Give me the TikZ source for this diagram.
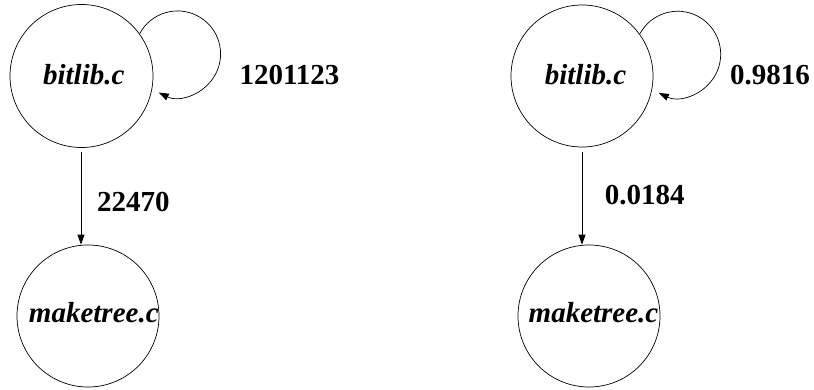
\documentclass[tikz,border=0pt]{standalone}
\usepackage{fontspec}
\setmainfont{Liberation Serif}
\usetikzlibrary{arrows.meta}
\begin{document}
\begin{tikzpicture}[x=1pt,y=1pt,
  statenode/.style={circle,draw,line width=0.7pt,inner sep=0pt,minimum size=142pt},
  filelabel/.style={anchor=base,inner sep=0pt,font=\fontsize{29}{34}\selectfont\bfseries\itshape},
  weightlabel/.style={anchor=base,inner sep=0pt,font=\fontsize{29}{34}\selectfont\bfseries},
  conn/.style={line width=0.7pt,-{Triangle[length=10pt,width=7pt]}}]
\useasboundingbox (0,0) rectangle (814,389);
% left graph
\node[statenode,minimum size=143pt] (A) at (81.5,313) {};
\node[statenode] (B) at (88,73) {};
\node[filelabel] (At) at (83.8,304) {bitlib.c};
\node[filelabel] (Bt) at (93.8,66.3) {maketree.c};
\coordinate (Aout) at (81,237);
\draw[conn] (Aout) -- (Aout |- B.north);
\draw[conn] (A.36) arc[start angle=152,end angle=-116,radius=43];
\node[weightlabel] (w1) at (289.5,304) {1201123};
\node[weightlabel] (w2) at (133.3,177.3) {22470};
% right graph
\node[statenode] (C) at (582,313) {};
\node[statenode] (D) at (589,73) {};
\node[filelabel] (Ct) at (585.5,304) {bitlib.c};
\node[filelabel] (Dt) at (593.5,66.3) {maketree.c};
\coordinate (Cout) at (582,237);
\draw[conn] (Cout) -- (Cout |- D.north);
\draw[conn] (C.36) arc[start angle=152,end angle=-116,radius=43];
\node[weightlabel] (w3) at (770,304) {0.9816};
\node[weightlabel] (w4) at (644.7,184.7) {0.0184};
\end{tikzpicture}
\end{document}
